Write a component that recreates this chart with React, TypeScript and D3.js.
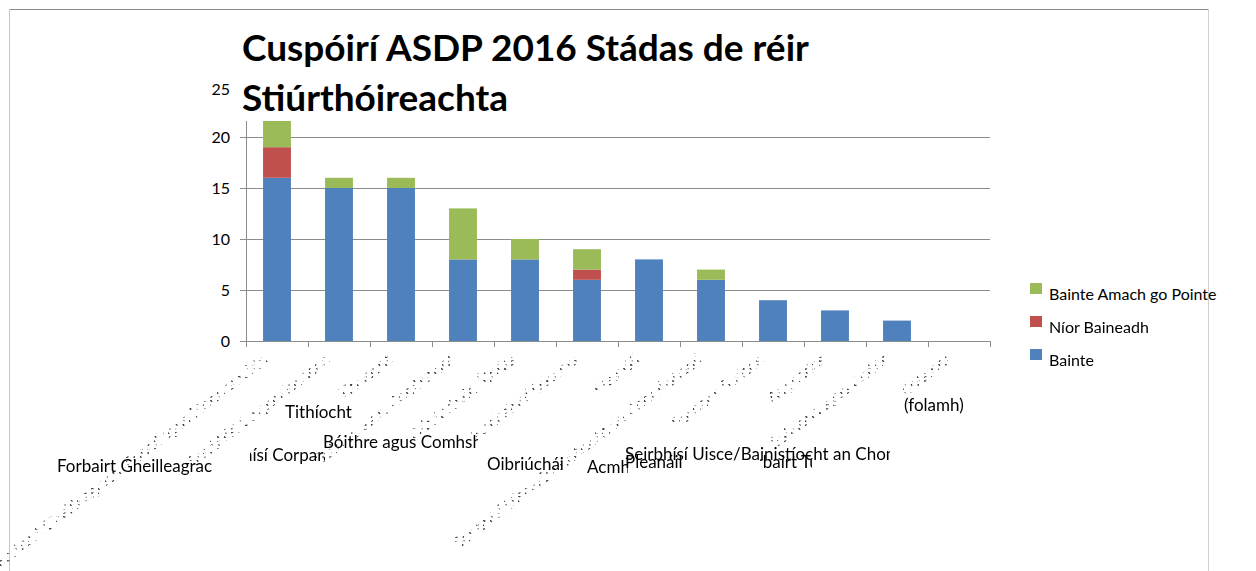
import React from 'react';
import * as d3 from 'd3';

const categories = [
  'Forbairt Gheilleagrach, Pobail agus Fiontraíochta',
  'Seirbhísí Corparáideacha',
  'Tithíocht',
  'Bóithre agus Comhshaol',
  'Oibriúcháin Áitiúla',
  'Acmhainní Daonna',
  'Pleanáil',
  'Seirbhísí Uisce/Bainistíocht an Chomhshaoil',
  'Forbairt Tuaithe',
  'Airgeadas',
  'Ealaíona agus Cultúr',
  '(folamh)',
];

const bainte = [16, 15, 15, 8, 8, 6, 8, 6, 4, 3, 2, 0];
const niorBaineadh = [3, 0, 0, 0, 0, 1, 0, 0, 0, 0, 0, 0];
const bainteAmach = [3, 1, 1, 5, 2, 2, 0, 1, 0, 0, 0, 0];

const seriesNames = ['Bainte', 'Níor Baineadh', 'Bainte Amach go Pointe'];
const seriesColors = ['#4f81bd', '#c0504d', '#9bbb59'];
const yTicks = [0, 5, 10, 15, 20, 25];

// horizontal fragments of the garbled axis labels: [category, x, y, clipFrom, clipTo]
const flatLabels: [number, number, number, number, number][] = [
  [0, 57, 472, 0, 213],
  [1, 205, 461, 250, 325],
  [2, 285, 418, 0, 2000],
  [3, 323, 448, 0, 478],
  [4, 487, 470, 0, 565],
  [5, 587, 473, 0, 628],
  [6, 625, 468, 0, 700],
  [7, 625, 460, 0, 890],
  [8, 738, 468, 760, 812],
  [11, 904, 411, 0, 2000],
];

const font = 'Lato, "Open Sans", sans-serif';

export default function App() {
  const left = 246;
  const right = 990;
  const bottom = 341;
  const plotTop = 121;

  const x = d3.scaleBand<number>().domain(d3.range(categories.length)).range([left, right]).paddingInner(0.55).paddingOuter(0.275);
  const y = d3.scaleLinear().domain([0, 25]).range([bottom, 86]);

  const rows = categories.map((c, i) => ({ i, a: bainte[i], b: niorBaineadh[i], c: bainteAmach[i] }));
  const stack = d3.stack<any>().keys(['a', 'b', 'c'])(rows);

  const step = (right - left) / categories.length;

  return (
    <svg width={1256} height={571} style={{ position: 'absolute', left: 0, top: 0, background: '#fff' }}>
      <defs>
        <clipPath id="plot">
          <rect x={left - 2} y={plotTop} width={right - left + 4} height={bottom - plotTop + 10} />
        </clipPath>
        <pattern id="stripes" width={7} height={4} patternUnits="userSpaceOnUse">
          <rect width={2.5} height={2} fill="#fff" />
        </pattern>
        <mask id="dash">
          <rect x={0} y={0} width={1256} height={571} fill="url(#stripes)" />
        </mask>
        {flatLabels.map(([ci, , , a, b]) => (
          <clipPath id={`fl${ci}`} key={ci}>
            <rect x={a} y={0} width={b - a} height={571} />
          </clipPath>
        ))}
      </defs>

      {/* frame */}
      <line x1={9} x2={1208} y1={9.5} y2={9.5} stroke="#8c8c8c" />
      <line x1={9.5} x2={9.5} y1={9} y2={571} stroke="#c8c8c8" />
      <line x1={1208.5} x2={1208.5} y1={9} y2={571} stroke="#d0d0d0" />

      {/* gridlines */}
      <g clipPath="url(#plot)">
        {yTicks.slice(1).map((t) => (
          <line key={t} x1={left} x2={right} y1={y(t) + 0.5} y2={y(t) + 0.5} stroke="#8c8c8c" />
        ))}
      </g>

      {/* bars */}
      <g clipPath="url(#plot)">
        {stack.map((s, k) => (
          <g key={k} fill={seriesColors[k]}>
            {s.map((d, i) =>
              d[1] - d[0] > 0 ? (
                <rect key={i} x={x(i)} y={y(d[1])} width={x.bandwidth()} height={y(d[0]) - y(d[1])} />
              ) : null
            )}
          </g>
        ))}
      </g>

      {/* axes */}
      <line x1={left + 0.5} x2={left + 0.5} y1={plotTop} y2={bottom + 6} stroke="#8c8c8c" />
      <line x1={left - 6} x2={right} y1={bottom + 0.5} y2={bottom + 0.5} stroke="#8c8c8c" />
      {yTicks.map((t) => (
        <g key={t}>
          {y(t) >= plotTop ? <line x1={left - 6} x2={left} y1={y(t) + 0.5} y2={y(t) + 0.5} stroke="#8c8c8c" /> : null}
          <text x={230} y={y(t) + (t === 25 ? 3 : 0)} dy="0.35em" textAnchor="end" fontFamily={font} fontSize={16} fill="#000">
            {t}
          </text>
        </g>
      ))}
      {d3.range(categories.length + 1).map((i) => (
        <line key={i} x1={left + i * step + 0.5} x2={left + i * step + 0.5} y1={bottom} y2={bottom + 6} stroke="#8c8c8c" />
      ))}

      {/* rotated labels, broken up as in the source render */}
      <g mask="url(#dash)" opacity={0.75}>
        {categories.map((c, i) => {
          const cx = (x(i) ?? 0) + x.bandwidth() / 2 - 8;
          return (
            <text key={i} x={cx} y={362} textAnchor="end" transform={`rotate(-37.5 ${cx} 362)`} fontFamily={font} fontSize={16} fill="#000">
              {c}
            </text>
          );
        })}
      </g>

      {/* horizontal label fragments */}
      {flatLabels.map(([ci, lx, ly]) => (
        <text key={ci} x={lx} y={ly} clipPath={`url(#fl${ci})`} fontFamily={font} fontSize={17} fill="#000">
          {categories[ci]}
        </text>
      ))}

      {/* title */}
      <text x={242} y={61} fontFamily={font} fontWeight="bold" fontSize={37} fill="#000">
        Cuspóirí ASDP 2016 Stádas de réir
      </text>
      <text x={242} y={111} fontFamily={font} fontWeight="bold" fontSize={37} fill="#000">
        Stiúrthóireachta
      </text>

      {/* legend */}
      {[2, 1, 0].map((k, j) => (
        <g key={k} transform={`translate(1030, ${283 + j * 33})`}>
          <rect width={12} height={11} fill={seriesColors[k]} />
          <text x={19} y={17} fontFamily={font} fontSize={16} fill="#000">
            {seriesNames[k]}
          </text>
        </g>
      ))}
    </svg>
  );
}
